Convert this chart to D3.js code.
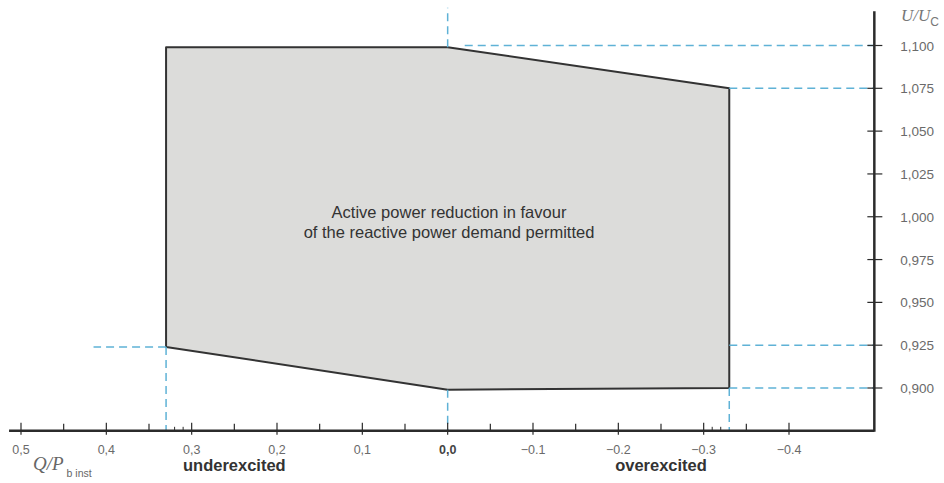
<!DOCTYPE html>
<html>
<head>
<meta charset="utf-8">
<script src="https://cdn.jsdelivr.net/npm/d3@7"></script>
<style>
  body { margin: 0; background: #fff; }
  text { font-family: "Liberation Sans", Arial, sans-serif; }
</style>
</head>
<body>
<svg id="chart" width="944" height="483"></svg>
<script>
// Q/P b inst (x) and U/Uc (y)
var xTicks = [0.5, 0.4, 0.3, 0.2, 0.1, 0.0, -0.1, -0.2, -0.3, -0.4];
var xTickLabels = ['0,5', '0,4', '0,3', '0,2', '0,1', '0,0', '\u22120.1', '\u22120.2', '\u22120.3', '\u22120.4'];
var xMinorTicks = [0.45, 0.35, 0.25, 0.15, 0.05, -0.05, -0.15, -0.25, -0.35];
var xSmallTicks = [0.32, 0.31, -0.31, -0.32];
var yTicks = [1.100, 1.075, 1.050, 1.025, 1.000, 0.975, 0.950, 0.925, 0.900];
var yTickLabels = ['1,100', '1,075', '1,050', '1,025', '1,000', '0,975', '0,950', '0,925', '0,900'];

// permitted operating area (Q, U)
var areaQ = [0.33, 0.0, -0.33, -0.33, 0.0, 0.33];
var areaU = [1.099, 1.099, 1.075, 0.900, 0.899, 0.924];

// dashed guide lines [q1, u1, q2, u2]
var guides = [
  [0.0, 1.099, 0.0, 1.122],
  [0.0, 0.899, 0.0, 0.875],
  [0.33, 0.924, 0.33, 0.875],
  [-0.33, 0.900, -0.33, 0.875],
  [-0.02, 1.100, -0.5, 1.100],
  [-0.33, 1.075, -0.5, 1.075],
  [-0.33, 0.925, -0.5, 0.925],
  [-0.33, 0.900, -0.5, 0.900],
  [0.33, 0.924, 0.415, 0.924]
];

var svg = d3.select('#chart');

var x = d3.scaleLinear().domain([0.5, -0.4]).range([21, 789]);
var y = d3.scaleLinear().domain([0.9, 1.1]).range([388, 45.5]);

var axisColor = '#2b2b2b';
var labelColor = '#6a6a6a';

// area
var pts = areaQ.map(function(q, i) { return [x(q), y(areaU[i])]; });
svg.append('polygon')
  .attr('points', pts.map(function(p) { return p.join(','); }).join(' '))
  .attr('fill', '#dcdcda')
  .attr('stroke', '#333')
  .attr('stroke-width', 2)
  .attr('stroke-linejoin', 'round');

// guides
svg.append('g').selectAll('line')
  .data(guides)
  .join('line')
    .attr('x1', function(d) { return x(d[0]); })
    .attr('y1', function(d) { return y(d[1]); })
    .attr('x2', function(d) { return x(d[2]); })
    .attr('y2', function(d) { return y(d[3]); })
    .attr('stroke', '#5fb2d6')
    .attr('stroke-width', 1.5)
    .attr('stroke-dasharray', '8,5');

// text in area
var note = svg.append('text')
  .attr('text-anchor', 'middle')
  .attr('fill', '#333')
  .style('font-size', '16.5px');
note.append('tspan').attr('x', 449).attr('y', 218).text('Active power reduction in favour');
note.append('tspan').attr('x', 449).attr('y', 238).text('of the reactive power demand permitted');

// x axis
var xAxisY = y(0.875);
var gx = svg.append('g');
gx.append('line')
  .attr('x1', x(0.514)).attr('x2', x(-0.5))
  .attr('y1', xAxisY).attr('y2', xAxisY)
  .attr('stroke', axisColor).attr('stroke-width', 2.5);
gx.selectAll('.major').data(xTicks).join('line')
  .attr('x1', function(d) { return x(d); }).attr('x2', function(d) { return x(d); })
  .attr('y1', xAxisY - 8).attr('y2', xAxisY + 4)
  .attr('stroke', axisColor).attr('stroke-width', 1.2);
gx.selectAll('.minor').data(xMinorTicks).join('line')
  .attr('x1', function(d) { return x(d); }).attr('x2', function(d) { return x(d); })
  .attr('y1', xAxisY - 7).attr('y2', xAxisY)
  .attr('stroke', axisColor).attr('stroke-width', 1.2);
gx.selectAll('.small').data(xSmallTicks).join('line')
  .attr('x1', function(d) { return x(d); }).attr('x2', function(d) { return x(d); })
  .attr('y1', xAxisY - 4).attr('y2', xAxisY)
  .attr('stroke', axisColor).attr('stroke-width', 1);
gx.selectAll('text').data(xTicks).join('text')
  .attr('x', function(d) { return x(d); })
  .attr('y', xAxisY + 23)
  .attr('text-anchor', 'middle')
  .attr('fill', function(d) { return d === 0 ? '#444' : labelColor; })
  .style('font-size', '12.5px')
  .style('font-weight', function(d) { return d === 0 ? 'bold' : 'normal'; })
  .text(function(d, i) { return xTickLabels[i]; });

// y axis
var yAxisX = x(-0.5);
var gy = svg.append('g');
gy.append('line')
  .attr('x1', yAxisX).attr('x2', yAxisX)
  .attr('y1', y(1.12)).attr('y2', xAxisY + 1)
  .attr('stroke', axisColor).attr('stroke-width', 2.5);
gy.selectAll('line.t').data(yTicks).join('line')
  .attr('class', 't')
  .attr('x1', yAxisX - 7).attr('x2', yAxisX + 8)
  .attr('y1', function(d) { return y(d); }).attr('y2', function(d) { return y(d); })
  .attr('stroke', axisColor).attr('stroke-width', 1.2);
gy.selectAll('text').data(yTicks).join('text')
  .attr('x', yAxisX + 26)
  .attr('y', function(d) { return y(d) + 5; })
  .attr('fill', labelColor)
  .style('font-size', '13.5px')
  .text(function(d, i) { return yTickLabels[i]; });

// axis titles
var yt = svg.append('text').attr('x', 901).attr('y', 21).attr('fill', '#777');
yt.append('tspan').style('font-family', '"Liberation Serif", serif').style('font-style', 'italic').style('font-size', '17px').text('U/U');
yt.append('tspan').attr('dy', 5).style('font-size', '12px').text('C');

var xt = svg.append('text').attr('x', 33).attr('y', 470).attr('fill', '#666');
xt.append('tspan').style('font-family', '"Liberation Serif", serif').style('font-style', 'italic').style('font-size', '19px').text('Q/P');
xt.append('tspan').attr('dx', 3).attr('dy', 7).style('font-size', '10.5px').text('b inst');

svg.append('text')
  .attr('x', x(0.25)).attr('y', 471)
  .attr('text-anchor', 'middle')
  .attr('fill', '#333')
  .style('font-size', '16.5px').style('font-weight', 'bold')
  .text('underexcited');
svg.append('text')
  .attr('x', x(-0.25)).attr('y', 471)
  .attr('text-anchor', 'middle')
  .attr('fill', '#333')
  .style('font-size', '16.5px').style('font-weight', 'bold')
  .text('overexcited');
</script>
</body>
</html>
